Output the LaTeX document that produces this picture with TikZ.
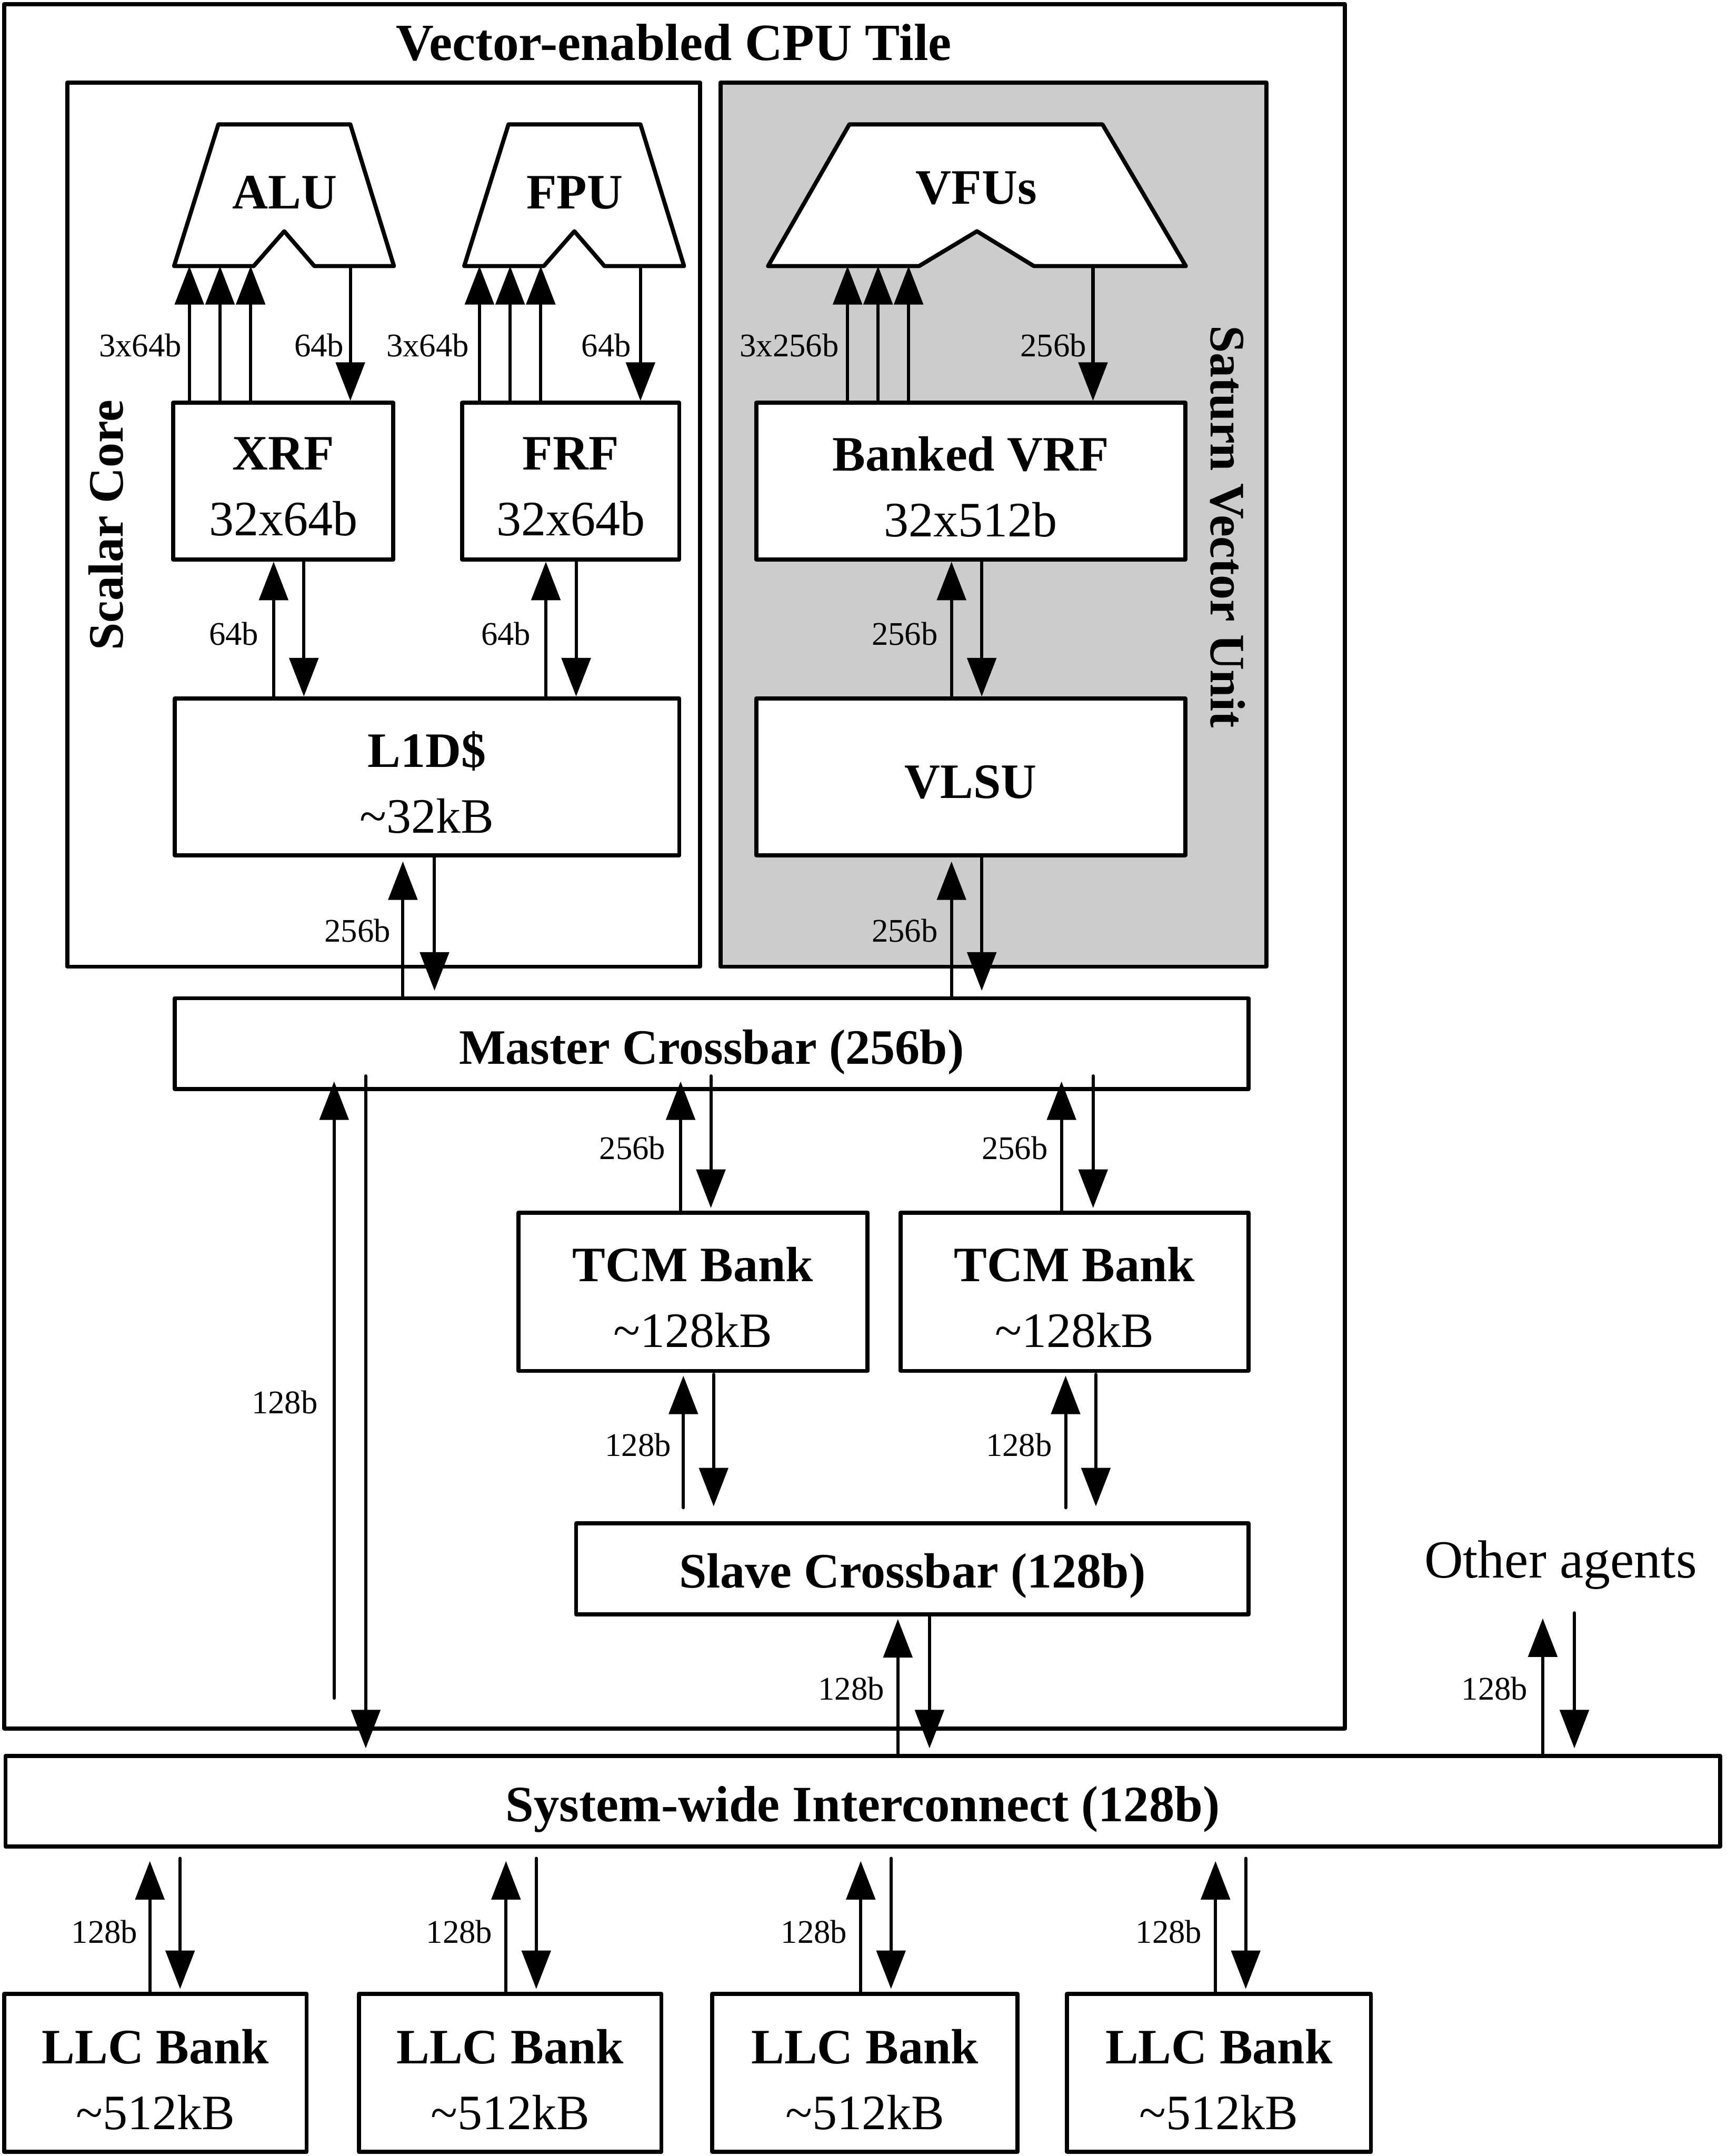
\documentclass[tikz,border=0pt]{standalone}
\usepackage{fontspec}
\setmainfont{Liberation Serif}
\usetikzlibrary{arrows.meta}
\newcommand\bigf{\fontsize{36}{48}\selectfont}
\newcommand\smallf{\fontsize{24}{26}\selectfont}
\begin{document}
\begin{tikzpicture}[x=1pt,y=-1pt,
  box/.style={draw,line width=3pt,line join=round,fill=white,inner sep=0pt},
  boxtext/.style={inner sep=0pt,align=center,font=\bigf},
  frame/.style={draw,line width=3pt,line join=round,inner sep=0pt},
  trap/.style={draw,line width=3pt,line join=round,fill=white},
  arr/.style={line width=2.3pt,line cap=round,-{Triangle[length=28pt,width=21pt]}},
  lab/.style={font=\smallf,inner sep=0pt},
  big/.style={font=\bigf\bfseries,inner sep=0pt}]
\useasboundingbox (0,0) rectangle (1256,1568);
\fill[white] (0,0) rectangle (1256,1568);

% frames
\node[frame,minimum width=975pt,minimum height=1254pt] (tile) at (490.5,630) {};
\node[big,font=\fontsize{38}{48}\selectfont\bfseries] (title) at (490,31) {Vector-enabled CPU Tile};
\node[frame,fill=white,minimum width=460pt,minimum height=643pt] (scalar) at (279,381.5) {};
\node[frame,fill=black!20,minimum width=397pt,minimum height=643pt] (saturn) at (722.5,381.5) {};
\node[big,rotate=90] (sclab) at (77,382) {Scalar Core};
\node[big,rotate=-90] (svlab) at (893,383) {Saturn Vector Unit};

% functional units
\draw[trap] (158.8,90.5) -- (254.8,90.5) -- (286.5,193.5) -- (228.6,193.5) -- (206.7,168.2) -- (184.5,193.5) -- (126.6,193.5) -- cycle;
\coordinate (alub) at (206,193.5);
\node[big] (alu) at (207,140) {ALU};
\draw[trap] (369.8,90.5) -- (465.8,90.5) -- (497.5,193.5) -- (439.6,193.5) -- (417.7,168.2) -- (395.5,193.5) -- (337.6,193.5) -- cycle;
\coordinate (fpub) at (417,193.5);
\node[big] (fpu) at (418,140) {FPU};
\draw[trap] (617.7,90.5) -- (801.8,90.5) -- (862.4,193.5) -- (751.9,193.5) -- (710.5,168.2) -- (668.4,193.5) -- (558.6,193.5) -- cycle;
\coordinate (vfub) at (710,193.5);
\node[big] (vfu) at (710,137) {VFUs};

% boxes
\node[box,minimum width=160pt,minimum height=114pt] (xrf) at (206,350) {};
\node[boxtext] (xrft) at ([yshift=-4pt]xrf.center) {\textbf{XRF}\\32x64b};
\node[box,minimum width=158pt,minimum height=114pt] (frf) at (415,350) {};
\node[boxtext] (frft) at ([yshift=-4pt]frf.center) {\textbf{FRF}\\32x64b};
\node[box,minimum width=367pt,minimum height=114pt] (l1d) at (310.5,565) {};
\node[boxtext] (l1dt) at ([yshift=-4pt]l1d.center) {\textbf{L1D\$}\\\textasciitilde32kB};
\node[box,minimum width=312pt,minimum height=114pt] (vrf) at (706,350) {};
\node[boxtext] (vrft) at ([yshift=-4pt]vrf.center) {\textbf{Banked VRF}\\32x512b};
\node[box,minimum width=312pt,minimum height=114pt] (vlsu) at (706,565) {};
\node[boxtext] (vlsut) at ([yshift=-4pt]vlsu.center) {\textbf{VLSU}};
\node[box,minimum width=781pt,minimum height=66pt] (master) at (517.5,759) {};
\node[boxtext] (mastert) at ([yshift=-6pt]master.center) {\textbf{Master Crossbar (256b)}};
\node[box,minimum width=254pt,minimum height=115pt] (tcma) at (504,939.5) {};
\node[boxtext] (tcmat) at ([yshift=-4pt]tcma.center) {\textbf{TCM Bank}\\\textasciitilde128kB};
\node[box,minimum width=253pt,minimum height=115pt] (tcmb) at (781.5,939.5) {};
\node[boxtext] (tcmbt) at ([yshift=-4pt]tcmb.center) {\textbf{TCM Bank}\\\textasciitilde128kB};
\node[box,minimum width=489pt,minimum height=66pt] (slave) at (663.5,1141) {};
\node[boxtext] (slavet) at ([yshift=-5pt]slave.center) {\textbf{Slave Crossbar (128b)}};
\node[box,minimum width=1247pt,minimum height=66pt] (sys) at (627.5,1310) {};
\node[boxtext,font=\fontsize{37}{48}\selectfont] (syst) at ([yshift=-6pt]sys.center) {\textbf{System-wide Interconnect (128b)}};
\node[box,minimum width=220pt,minimum height=115pt] (llca) at (113,1507.5) {};
\node[boxtext] (llcat) at ([yshift=-5pt]llca.center) {\textbf{LLC Bank}\\\textasciitilde512kB};
\node[box,minimum width=220pt,minimum height=115pt] (llcb) at (371,1507.5) {};
\node[boxtext] (llcbt) at ([yshift=-5pt]llcb.center) {\textbf{LLC Bank}\\\textasciitilde512kB};
\node[box,minimum width=222pt,minimum height=115pt] (llcc) at (629,1507.5) {};
\node[boxtext] (llcct) at ([yshift=-5pt]llcc.center) {\textbf{LLC Bank}\\\textasciitilde512kB};
\node[box,minimum width=221pt,minimum height=115pt] (llcd) at (886.5,1507.5) {};
\node[boxtext] (llcdt) at ([yshift=-5pt]llcd.center) {\textbf{LLC Bank}\\\textasciitilde512kB};
\node[font=\fontsize{39}{48}\selectfont,inner sep=0pt] (oth) at (1135,1138) {Other agents};
\coordinate (othin) at (1122,1177);
\coordinate (othout) at (1145,1173);
\coordinate (tilein) at (243,1235);

% register file <-> units
\foreach \x in {137.7,160,182.3} \draw[arr] (xrf.north -| \x,0) -- (alub -| \x,0);
\draw[arr] (alub -| 254.8,0) -- (xrf.north -| 254.8,0);
\foreach \x in {348.7,371,393.3} \draw[arr] (frf.north -| \x,0) -- (fpub -| \x,0);
\draw[arr] (fpub -| 465.8,0) -- (frf.north -| 465.8,0);
\foreach \x in {616.4,638.6,660.8} \draw[arr] (vrf.north -| \x,0) -- (vfub -| \x,0);
\draw[arr] (vfub -| 794.9,0) -- (vrf.north -| 794.9,0);

% RF <-> L1D / VLSU
\draw[arr] (l1d.north -| 199,0) -- (xrf.south -| 199,0);
\draw[arr] (xrf.south -| 221,0) -- (l1d.north -| 221,0);
\draw[arr] (l1d.north -| 397,0) -- (frf.south -| 397,0);
\draw[arr] (frf.south -| 419,0) -- (l1d.north -| 419,0);
\draw[arr] (vlsu.north -| 692,0) -- (vrf.south -| 692,0);
\draw[arr] (vrf.south -| 714,0) -- (vlsu.north -| 714,0);

% L1D / VLSU <-> master
\draw[arr,shorten >=3pt] (master.north -| 293,0) -- (l1d.south -| 293,0);
\draw[arr,shorten >=4pt] (l1d.south -| 316,0) -- (master.north -| 316,0);
\draw[arr,shorten >=3pt] (master.north -| 692,0) -- (vlsu.south -| 692,0);
\draw[arr,shorten >=4pt] (vlsu.south -| 714,0) -- (master.north -| 714,0);

% master <-> system / TCM
\draw[arr,shorten >=-7pt] (tilein) -- (master.south -| tilein);
\draw[arr,shorten <=-11pt,shorten >=4pt] (master.south -| 266,0) -- (sys.north -| 266,0);
\draw[arr,shorten >=-7pt] (tcma.north -| 495,0) -- (master.south -| 495,0);
\draw[arr,shorten <=-11pt,shorten >=2pt] (master.south -| 517,0) -- (tcma.north -| 517,0);
\draw[arr,shorten >=-7pt] (tcmb.north -| 772,0) -- (master.south -| 772,0);
\draw[arr,shorten <=-11pt,shorten >=2pt] (master.south -| 795,0) -- (tcmb.north -| 795,0);

% TCM <-> slave
\draw[arr,shorten <=10pt,shorten >=2pt] (slave.north -| 497,0) -- (tcma.south -| 497,0);
\draw[arr,shorten >=11pt,shorten <=1pt] (tcma.south -| 519,0) -- (slave.north -| 519,0);
\draw[arr,shorten <=10pt,shorten >=2pt] (slave.north -| 775,0) -- (tcmb.south -| 775,0);
\draw[arr,shorten >=11pt,shorten <=1pt] (tcmb.south -| 797,0) -- (slave.north -| 797,0);

% slave <-> system, other agents
\draw[arr,shorten >=2pt] (sys.north -| 653,0) -- (slave.south -| 653,0);
\draw[arr,shorten >=4pt] (slave.south -| 676,0) -- (sys.north -| 676,0);
\draw[arr] (sys.north -| othin) -- (othin);
\draw[arr,shorten >=4pt] (othout) -- (sys.north -| othout);

% system <-> LLC
\foreach \b/\x in {llca/109,llcb/368,llcc/626,llcd/884}{
  \draw[arr,shorten >=9pt] (\b.north -| \x,0) -- (sys.south -| \x,0);
  \draw[arr,shorten <=7pt,shorten >=2pt] (sys.south -| \x+22,0) -- (\b.north -| \x+22,0);
}

% width labels
\node[lab] (l1) at (102,251) {3x64b};
\node[lab] (l2) at (232,251) {64b};
\node[lab] (l3) at (311,251) {3x64b};
\node[lab] (l4) at (441,251) {64b};
\node[lab] (l5) at (574,251) {3x256b};
\node[lab] (l6) at (766,251) {256b};
\node[lab] (l7) at (170,461) {64b};
\node[lab] (l8) at (368,461) {64b};
\node[lab] (l9) at (658,461) {256b};
\node[lab] (l10) at (260,677) {256b};
\node[lab] (l11) at (658,677) {256b};
\node[lab] (l12) at (207,1020) {128b};
\node[lab] (l13) at (460,835) {256b};
\node[lab] (l14) at (738,835) {256b};
\node[lab] (l15) at (464,1051) {128b};
\node[lab] (l16) at (741,1051) {128b};
\node[lab] (l17) at (619,1228) {128b};
\node[lab] (l18) at (1087,1228) {128b};
\node[lab] (l19) at (76,1405) {128b};
\node[lab] (l20) at (334,1405) {128b};
\node[lab] (l21) at (592,1405) {128b};
\node[lab] (l22) at (850,1405) {128b};
\end{tikzpicture}
\end{document}
